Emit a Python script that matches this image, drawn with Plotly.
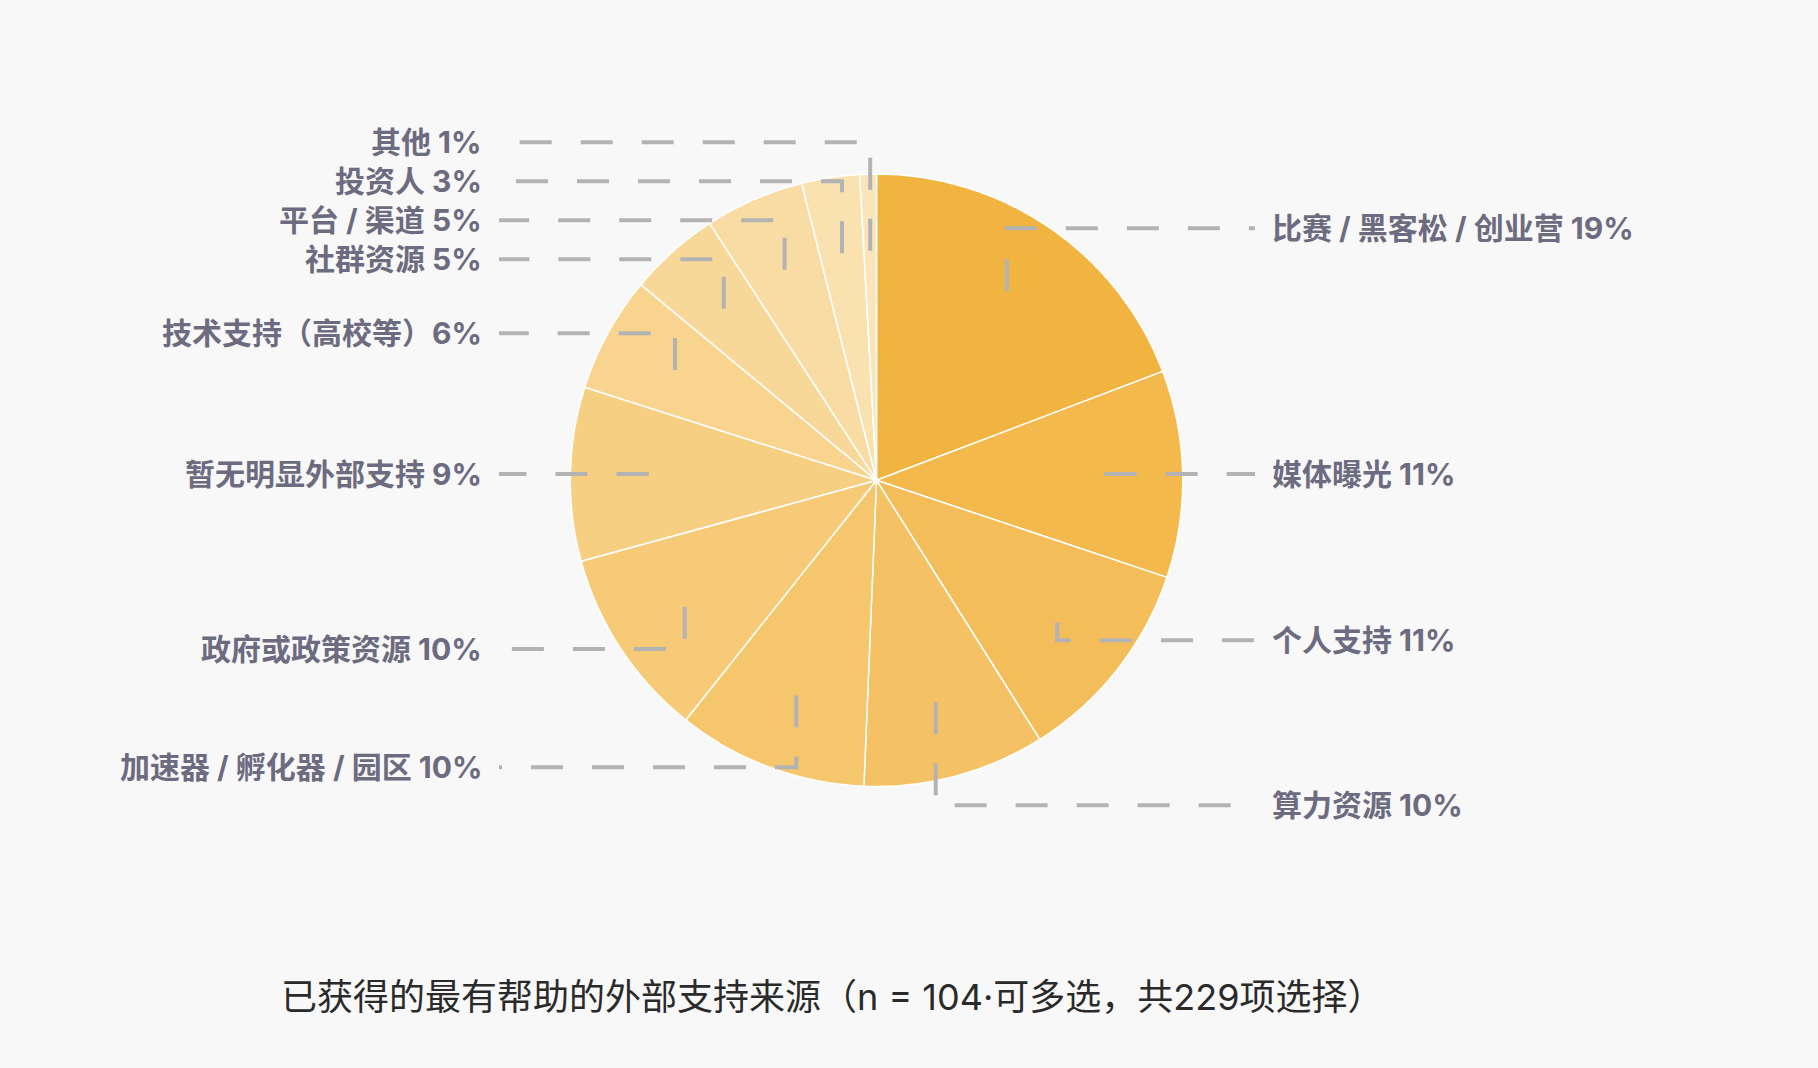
import math
import plotly.graph_objects as go

# data: sources of external support (counts out of 229 choices)
categories = ["比赛 / 黑客松 / 创业营", "媒体曝光", "个人支持", "算力资源",
              "加速器 / 孵化器 / 园区", "政府或政策资源", "暂无明显外部支持",
              "技术支持（高校等）", "社群资源", "平台 / 渠道", "投资人", "其他"]
counts = [44, 25, 25, 22, 23, 23, 21, 14, 11, 12, 7, 2]
caption = "已获得的最有帮助的外部支持来源（n = 104·可多选，共229项选择）"

# styling
colors = ["#F2B441", "#F3B94D", "#F3BE59", "#F4C264", "#F5C66C", "#F6CA77",
          "#F7CF82", "#F8D48E", "#F8D898", "#F9DCA3", "#FAE1B0", "#FBE5BB"]
BG = "#f8f8f8"
LABEL_COLOR = "#6c6b80"
LINE_COLOR = "#b3b3b3"
FONT = "Inter, Noto Sans CJK SC, sans-serif"

# geometry in figure pixels
W, H = 1818, 1068
cx, cy, R = 876.5, 480.3, 306.3
anchor_r = 0.75 * R
label_r = 1.0 * R
gap_right, gap_left = 165, 39
left_x, right_x = 483, 1271
line_pad = 16


def px(x, y):
    return x / W, 1 - y / H


def spread(items, gap):
    # items: (base_y, key); keeps clusters centred on their mean, no overlaps
    clusters = []
    for y, k in sorted(items):
        clusters.append([[y], [k]])
        while len(clusters) > 1:
            a, b = clusters[-2], clusters[-1]
            ma = sum(a[0]) / len(a[0])
            mb = sum(b[0]) / len(b[0])
            a_bottom = ma + (len(a[0]) - 1) / 2 * gap
            b_top = mb - (len(b[0]) - 1) / 2 * gap
            if b_top - a_bottom < gap:
                clusters[-2] = [a[0] + b[0], a[1] + b[1]]
                clusters.pop()
            else:
                break
    out = {}
    for ys, ks in clusters:
        m = sum(ys) / len(ys)
        for j, k in enumerate(ks):
            out[k] = m + (j - (len(ks) - 1) / 2) * gap
    return out


total = sum(counts)
mids = []
acc = 0
for c in counts:
    mids.append(math.radians((acc + c / 2) / total * 360))
    acc += c

right_items, left_items = [], []
for i, a in enumerate(mids):
    base = cy - label_r * math.cos(a)
    (right_items if math.sin(a) >= 0 else left_items).append((base, i))
label_y = {**spread(right_items, gap_right), **spread(left_items, gap_left)}

fig = go.Figure()

d0x, d1y = px(cx - R, cy - R)
d1x, d0y = px(cx + R, cy + R)
fig.add_trace(go.Pie(
    labels=categories,
    values=counts,
    sort=False,
    direction="clockwise",
    rotation=0,
    marker=dict(colors=colors, line=dict(color="white", width=1.5)),
    textinfo="none",
    hoverinfo="label+percent",
    showlegend=False,
    domain=dict(x=[d0x, d1x], y=[d0y, d1y]),
))

shapes = []
annotations = []
for i, a in enumerate(mids):
    ax = cx + anchor_r * math.sin(a)
    ay = cy - anchor_r * math.cos(a)
    ly = label_y[i]
    right = math.sin(a) >= 0
    ex = right_x - line_pad if right else left_x + line_pad
    p0, p1, p2 = px(ax, ay), px(ax, ly), px(ex, ly)
    shapes.append(dict(
        type="path", xref="paper", yref="paper", layer="above",
        path=f"M {p0[0]} {p0[1]} L {p1[0]} {p1[1]} L {p2[0]} {p2[1]}",
        line=dict(color=LINE_COLOR, width=4, dash="32px,29px"),
    ))
    pct = round(100 * counts[i] / total)
    name = categories[i]
    text = f"{name}{pct}%" if name.endswith("）") else f"{name} {pct}%"
    tx, ty = px(right_x if right else left_x, ly)
    annotations.append(dict(
        x=tx, y=ty, xref="paper", yref="paper", text=text, showarrow=False,
        xanchor="left" if right else "right", yanchor="middle", borderpad=0,
        font=dict(family=FONT, size=30, color=LABEL_COLOR, weight="bold"),
    ))

cap_x, cap_y = px(832, 997)
annotations.append(dict(
    x=cap_x, y=cap_y, xref="paper", yref="paper", text=caption, showarrow=False,
    xanchor="center", yanchor="middle",
    font=dict(family=FONT, size=36, color="#2a2a2a"),
))

fig.update_layout(
    width=W, height=H,
    margin=dict(l=0, r=0, t=0, b=0),
    paper_bgcolor=BG,
    plot_bgcolor=BG,
    font=dict(family=FONT),
    shapes=shapes,
    annotations=annotations,
)

# page fills the window edge to edge like the reference
fig.write_html(
    "out.html",
    config={"displayModeBar": False},
    post_script="document.body.style.margin='0';"
                "document.body.style.overflow='hidden';"
                f"document.body.style.background='{BG}';",
)
